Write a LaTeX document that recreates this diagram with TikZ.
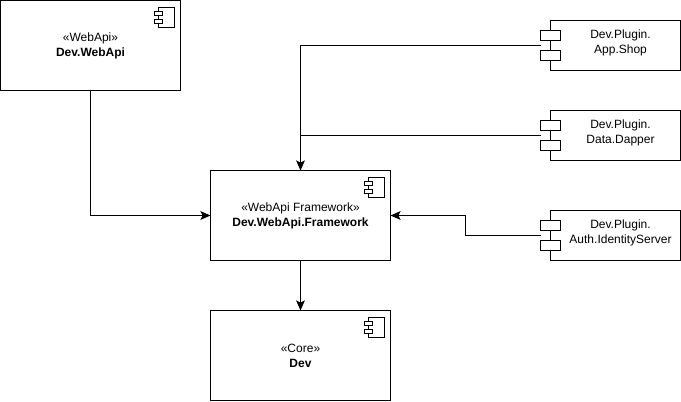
\documentclass[tikz,border=0pt]{standalone}
\usepackage{fontspec}
\setmainfont{Liberation Sans}
\usetikzlibrary{arrows.meta,positioning,calc}

\begin{document}
\begin{tikzpicture}[
  x=0.75pt,y=-0.75pt,
  every node/.style={outer sep=0pt,inner sep=0pt},
  comp/.style={draw,line width=0.75pt,fill=white,minimum width=135pt,minimum height=67.5pt,align=center,font=\fontsize{9pt}{11.25pt}\selectfont},
  plugin/.style={draw,line width=0.75pt,fill=white,minimum width=97.5pt,minimum height=37.5pt,
    label={[align=center,xshift=3.75pt,yshift=2pt,font=\fontsize{9pt}{11.25pt}\selectfont]center:#1}},
  port/.style={draw,line width=0.75pt,fill=white,minimum width=15pt,minimum height=7.5pt},
  iconbody/.style={draw,line width=0.75pt,fill=white,minimum width=12pt,minimum height=15pt},
  iconport/.style={draw,line width=0.75pt,fill=white,minimum width=6pt,minimum height=3pt},
  dep/.style={-{Stealth[length=7.5pt,width=6.5pt,inset=1.5pt]},line width=0.75pt},
  plain/.style={line width=0.75pt}
]
  \useasboundingbox (0,0) rectangle (681,401);

  \node[comp] (webapi) at (90.5,45.5) {«WebApi»\\\textbf{Dev.WebApi}};
  \node[comp] (fw) at (300.5,215.5) {«WebApi Framework»\\\textbf{Dev.WebApi.Framework}};
  \node[comp, below=37.5pt of fw] (core) {«Core»\\\textbf{Dev}};

  \node[plugin={Dev.Plugin.\\App.Shop}] (shop) at (615.5,45.5) {};
  \node[plugin={Dev.Plugin.\\Data.Dapper}, below=30pt of shop] (dapper) {};
  \node[plugin={Dev.Plugin.\\Auth.IdentityServer}, below=37.5pt of dapper] (auth) {};

  % component icons
  \foreach \cn in {webapi,fw,core} {
    \node[iconbody, anchor=north east] (\cn icon) at ($(\cn.north east)+(-6.5,7)$) {};
    \node[iconport] (\cn icona) at ($(\cn icon.north west)+(0,6)$) {};
    \node[iconport] (\cn iconb) at ($(\cn icon.north west)+(0,14)$) {};
  }

  % plugin ports
  \foreach \pn in {shop,dapper,auth} {
    \node[port] (\pn a) at ($(\pn.west)+(0,-10)$) {};
    \node[port] (\pn b) at ($(\pn.west)+(0,10)$) {};
    \coordinate (\pn in) at ($(\pn.west)+(-10,0)$);
  }

  \draw[dep] (webapi) -- (webapi.south |- fw.west) -- (fw.west);
  \draw[dep] (shopin) -- (fw.north |- shopin) -- (fw.north);
  \draw[plain] (dapperin) -- (fw.north |- dapperin);
  \draw[dep] (authin) -- ++(-75,0) |- (fw.east);
  \draw[dep] (fw) -- (core);
\end{tikzpicture}
\end{document}
